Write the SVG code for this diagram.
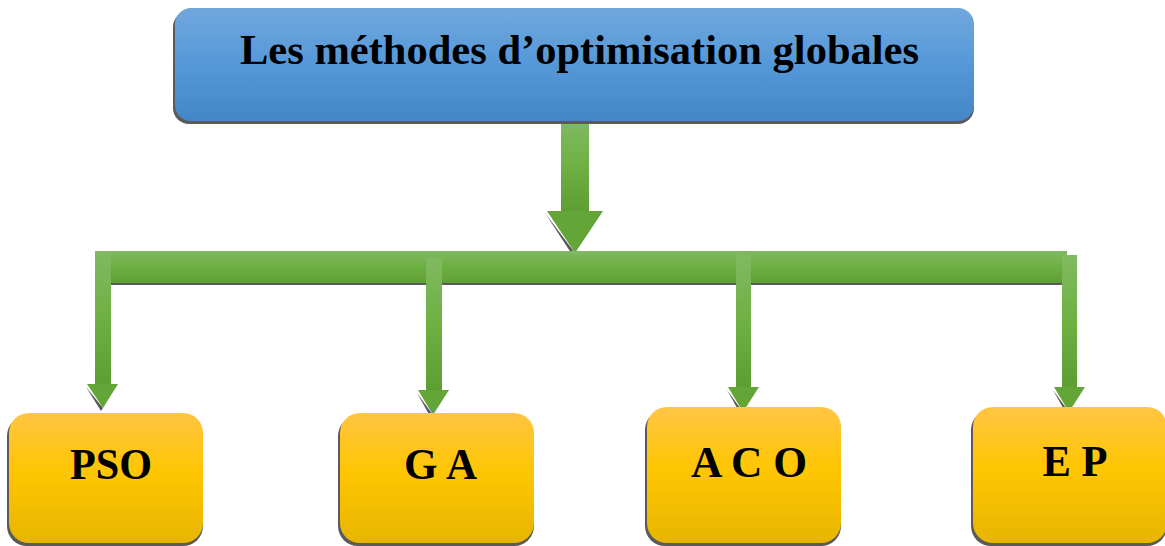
<svg xmlns="http://www.w3.org/2000/svg" width="1165" height="546" viewBox="0 0 1165 546">
  <defs>
    <linearGradient id="gBlue" x1="0" y1="0" x2="0" y2="1">
      <stop offset="0" stop-color="#70a8dd"/>
      <stop offset="0.5" stop-color="#5598d8"/>
      <stop offset="1" stop-color="#4487c8"/>
    </linearGradient>
    <linearGradient id="gOrange" x1="0" y1="0" x2="0" y2="1">
      <stop offset="0" stop-color="#ffc544"/>
      <stop offset="0.45" stop-color="#ffc602"/>
      <stop offset="1" stop-color="#e7b500"/>
    </linearGradient>
    <linearGradient id="gGreenV" x1="0" y1="0" x2="0" y2="1">
      <stop offset="0" stop-color="#80ba62"/>
      <stop offset="0.5" stop-color="#6fb043"/>
      <stop offset="1" stop-color="#5c9e32"/>
    </linearGradient>
    <linearGradient id="gGreenBar" x1="0" y1="0" x2="0" y2="1">
      <stop offset="0" stop-color="#7fb962"/>
      <stop offset="0.5" stop-color="#6db042"/>
      <stop offset="1" stop-color="#5e9f34"/>
    </linearGradient>
  </defs>
  <style>
    .shadow { fill: #5a5a5a; }
    .title { font-family: "Liberation Serif", "Times New Roman", serif; font-weight: bold; font-size: 42px; fill: #000; }
    .lbl { font-family: "Liberation Serif", "Times New Roman", serif; font-weight: bold; font-size: 44px; fill: #000; }
    .head { fill: #63a637; }
  </style>

  <rect width="1165" height="546" fill="#ffffff"/>

  <g id="connectors">
    <!-- main down arrow -->
    <g id="main-arrow">
      <polygon class="shadow" points="545,213 573,256 575,253"/>
      <rect x="561" y="121" width="28" height="91" fill="url(#gGreenV)"/>
      <polygon class="head" points="547,211 603,211 575,253"/>
    </g>
    <!-- horizontal bar -->
    <g id="bar">
      <rect class="shadow" x="110" y="281" width="952" height="4"/>
      <rect x="95" y="251" width="972" height="32" fill="url(#gGreenBar)"/>
    </g>
    <!-- branch arrows -->
    <g id="arrow-pso">
      <polygon class="shadow" points="86,387 101,411 103,408"/>
      <rect x="95" y="251" width="16" height="134" fill="url(#gGreenV)"/>
      <polygon class="head" points="87,384 118,384 103,408"/>
    </g>
    <g id="arrow-ga">
      <polygon class="shadow" points="417,393 431,418 433,415"/>
      <rect x="426" y="258" width="16" height="133" fill="url(#gGreenV)"/>
      <polygon class="head" points="418,390 449,390 433,415"/>
    </g>
    <g id="arrow-aco">
      <polygon class="shadow" points="727,390 741,415 743,412"/>
      <rect x="736" y="255" width="15" height="133" fill="url(#gGreenV)"/>
      <polygon class="head" points="728,387 759,387 743,412"/>
    </g>
    <g id="arrow-ep">
      <polygon class="shadow" points="1053,390 1067,415 1069,412"/>
      <rect x="1062" y="255" width="15" height="133" fill="url(#gGreenV)"/>
      <polygon class="head" points="1054,387 1085,387 1069,412"/>
    </g>
  </g>

  <g id="node-title">
    <rect class="shadow" x="173" y="11" width="801" height="113" rx="16"/>
    <rect x="175" y="8" width="799" height="113" rx="16" fill="url(#gBlue)"/>
    <text class="title" x="579.5" y="64" text-anchor="middle" textLength="679" lengthAdjust="spacingAndGlyphs">Les méthodes d’optimisation globales</text>
  </g>

  <g id="node-pso">
    <rect class="shadow" x="7" y="416" width="196" height="130" rx="20"/>
    <rect x="9" y="413" width="194" height="130" rx="20" fill="url(#gOrange)"/>
    <text class="lbl" x="111" y="479" text-anchor="middle" textLength="82" lengthAdjust="spacingAndGlyphs">PSO</text>
  </g>

  <g id="node-ga">
    <rect class="shadow" x="338" y="416" width="196" height="130" rx="20"/>
    <rect x="340" y="413" width="194" height="130" rx="20" fill="url(#gOrange)"/>
    <text class="lbl" x="440.5" y="479" text-anchor="middle" textLength="73" lengthAdjust="spacingAndGlyphs">G A</text>
  </g>

  <g id="node-aco">
    <rect class="shadow" x="645" y="410" width="196" height="136" rx="20"/>
    <rect x="647" y="407" width="194" height="136" rx="20" fill="url(#gOrange)"/>
    <text class="lbl" x="749" y="477" text-anchor="middle" textLength="116" lengthAdjust="spacingAndGlyphs">A C O</text>
  </g>

  <g id="node-ep">
    <rect class="shadow" x="971" y="410" width="196" height="136" rx="20"/>
    <rect x="973" y="407" width="194" height="136" rx="20" fill="url(#gOrange)"/>
    <text class="lbl" x="1075" y="476" text-anchor="middle" textLength="65" lengthAdjust="spacingAndGlyphs">E P</text>
  </g>
</svg>
